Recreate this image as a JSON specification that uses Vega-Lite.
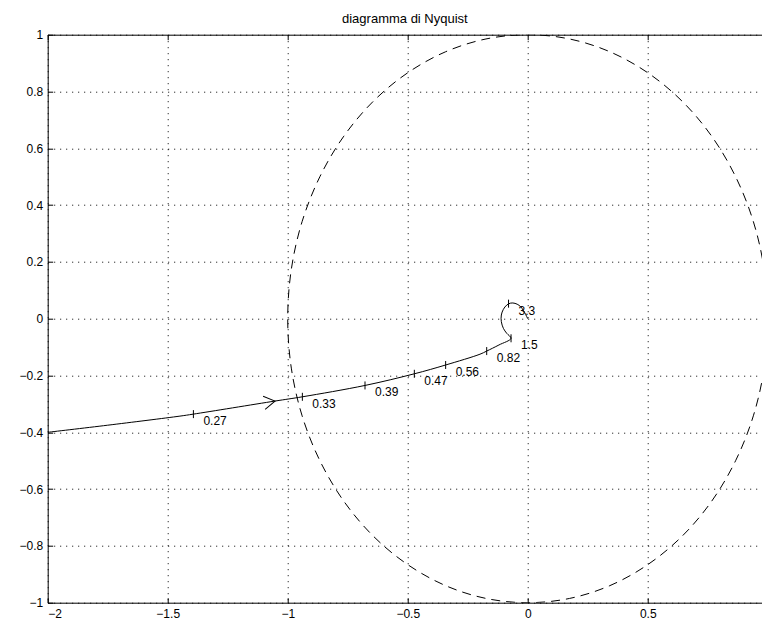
{
  "$schema": "https://vega.github.io/schema/vega-lite/v6.json",
  "autosize": "none",
  "width": 714.3,
  "height": 568,
  "padding": {"left": 47.7, "top": 34.7, "right": 0, "bottom": 19.3},
  "background": "white",
  "title": {"text": "diagramma di Nyquist", "fontSize": 13, "fontWeight": "normal", "font": "Liberation Sans", "color": "black", "offset": 3},
  "config": {
    "view": {"stroke": null},
    "axis": {"labelFont": "Liberation Sans", "labelFontSize": 12, "labelColor": "black", "domainColor": "black", "tickColor": "black", "gridColor": "black", "gridOpacity": 1, "gridDash": [1, 5], "title": null}
  },
  "datasets": {
    "circle": [
      {"k": 0, "re": 1, "im": 0}, {"k": 1, "re": 0.985, "im": 0.174}, {"k": 2, "re": 0.94, "im": 0.342},
      {"k": 3, "re": 0.866, "im": 0.5}, {"k": 4, "re": 0.766, "im": 0.643}, {"k": 5, "re": 0.643, "im": 0.766},
      {"k": 6, "re": 0.5, "im": 0.866}, {"k": 7, "re": 0.342, "im": 0.94}, {"k": 8, "re": 0.174, "im": 0.985},
      {"k": 9, "re": 0, "im": 1}, {"k": 10, "re": -0.174, "im": 0.985}, {"k": 11, "re": -0.342, "im": 0.94},
      {"k": 12, "re": -0.5, "im": 0.866}, {"k": 13, "re": -0.643, "im": 0.766}, {"k": 14, "re": -0.766, "im": 0.643},
      {"k": 15, "re": -0.866, "im": 0.5}, {"k": 16, "re": -0.94, "im": 0.342}, {"k": 17, "re": -0.985, "im": 0.174},
      {"k": 18, "re": -1, "im": 0}, {"k": 19, "re": -0.985, "im": -0.174}, {"k": 20, "re": -0.94, "im": -0.342},
      {"k": 21, "re": -0.866, "im": -0.5}, {"k": 22, "re": -0.766, "im": -0.643}, {"k": 23, "re": -0.643, "im": -0.766},
      {"k": 24, "re": -0.5, "im": -0.866}, {"k": 25, "re": -0.342, "im": -0.94}, {"k": 26, "re": -0.174, "im": -0.985},
      {"k": 27, "re": 0, "im": -1}, {"k": 28, "re": 0.174, "im": -0.985}, {"k": 29, "re": 0.342, "im": -0.94},
      {"k": 30, "re": 0.5, "im": -0.866}, {"k": 31, "re": 0.643, "im": -0.766}, {"k": 32, "re": 0.766, "im": -0.643},
      {"k": 33, "re": 0.866, "im": -0.5}, {"k": 34, "re": 0.94, "im": -0.342}, {"k": 35, "re": 0.985, "im": -0.174},
      {"k": 36, "re": 1, "im": 0}
    ],
    "curve": [
      {"k": 0, "re": -2, "im": -0.4}, {"k": 1, "re": -1.75, "im": -0.375}, {"k": 2, "re": -1.449, "im": -0.343},
      {"k": 3, "re": -1.393, "im": -0.336}, {"k": 4, "re": -1.053, "im": -0.29}, {"k": 5, "re": -0.939, "im": -0.275},
      {"k": 6, "re": -0.678, "im": -0.235}, {"k": 7, "re": -0.4725, "im": -0.194}, {"k": 8, "re": -0.342, "im": -0.163},
      {"k": 9, "re": -0.199, "im": -0.125}, {"k": 10, "re": -0.171, "im": -0.114}, {"k": 11, "re": -0.12, "im": -0.0925},
      {"k": 12, "re": -0.0696, "im": -0.069}, {"k": 13, "re": -0.0875, "im": -0.0515}, {"k": 14, "re": -0.1015, "im": -0.034},
      {"k": 15, "re": -0.11, "im": -0.0105}, {"k": 16, "re": -0.11, "im": 0.013}, {"k": 17, "re": -0.1015, "im": 0.033},
      {"k": 18, "re": -0.0875, "im": 0.048}, {"k": 19, "re": -0.071, "im": 0.055}, {"k": 20, "re": -0.053, "im": 0.054},
      {"k": 21, "re": -0.036, "im": 0.047}, {"k": 22, "re": -0.024, "im": 0.0366}, {"k": 23, "re": -0.0125, "im": 0.021},
      {"k": 24, "re": 0, "im": 0}
    ],
    "freq": [
      {"w": "0.27", "re": -1.393, "im": -0.336}, {"w": "0.33", "re": -0.939, "im": -0.275},
      {"w": "0.39", "re": -0.678, "im": -0.235}, {"w": "0.47", "re": -0.4725, "im": -0.194},
      {"w": "0.56", "re": -0.342, "im": -0.163}, {"w": "0.82", "re": -0.171, "im": -0.114},
      {"w": "1.5", "re": -0.0696, "im": -0.069}, {"w": "3.3", "re": -0.08, "im": 0.053}
    ],
    "arrow": [{"re": -1.053, "im": -0.29}]
  },
  "resolve": {"axis": {"x": "independent", "y": "independent"}},
  "layer": [
    {
      "data": {"name": "circle"},
      "mark": {"type": "line", "color": "black", "strokeWidth": 1, "strokeDash": [9, 6], "interpolate": "catmull-rom", "clip": true},
      "encoding": {
        "x": {"field": "re", "type": "quantitative", "scale": {"domain": [-2, 0.976], "nice": false, "zero": false},
              "axis": {"orient": "bottom", "values": [-2, -1.5, -1, -0.5, 0, 0.5], "format": "~g", "grid": true, "tickSize": -5, "labelPadding": 11, "domainWidth": 1}},
        "y": {"field": "im", "type": "quantitative", "scale": {"domain": [-1, 1], "nice": false, "zero": false},
              "axis": {"orient": "left", "values": [-1, -0.8, -0.6, -0.4, -0.2, 0, 0.2, 0.4, 0.6, 0.8, 1], "format": "~g", "grid": true, "tickSize": -5, "labelPadding": 10, "domainWidth": 1}},
        "order": {"field": "k", "type": "quantitative"}
      }
    },
    {
      "data": {"name": "curve"},
      "mark": {"type": "line", "color": "black", "strokeWidth": 1, "interpolate": "catmull-rom", "clip": true},
      "encoding": {
        "x": {"field": "re", "type": "quantitative", "axis": {"orient": "top", "values": [-2, -1.5, -1, -0.5, 0, 0.5], "labels": false, "grid": false, "tickSize": -5, "domainWidth": 1}},
        "y": {"field": "im", "type": "quantitative", "axis": null},
        "order": {"field": "k", "type": "quantitative"}
      }
    },
    {
      "data": {"name": "freq"},
      "mark": {"type": "point", "shape": "M0,-1L0,1", "size": 64, "filled": false, "stroke": "black", "strokeWidth": 1, "opacity": 1},
      "encoding": {
        "x": {"field": "re", "type": "quantitative", "axis": null},
        "y": {"field": "im", "type": "quantitative", "axis": null}
      }
    },
    {
      "data": {"name": "freq"},
      "mark": {"type": "text", "align": "left", "baseline": "middle", "dx": 10, "dy": 7, "font": "Liberation Sans", "fontSize": 12, "color": "black"},
      "encoding": {
        "x": {"field": "re", "type": "quantitative", "axis": null},
        "y": {"field": "im", "type": "quantitative", "axis": null},
        "text": {"field": "w", "type": "nominal"}
      }
    },
    {
      "data": {"name": "arrow"},
      "mark": {"type": "point", "shape": "M-1,-0.6L0,0L-1,0.6", "size": 484, "angle": -9, "filled": false, "stroke": "black", "strokeWidth": 1, "opacity": 1},
      "encoding": {
        "x": {"field": "re", "type": "quantitative", "axis": null},
        "y": {"field": "im", "type": "quantitative", "axis": null}
      }
    }
  ]
}
